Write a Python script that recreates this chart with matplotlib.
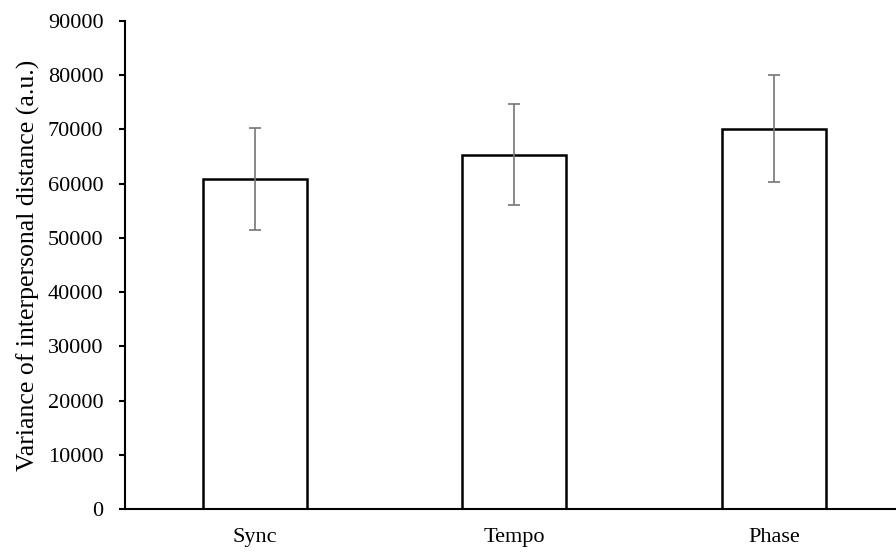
import matplotlib.pyplot as plt
import numpy as np

conditions = ["Sync", "Tempo", "Phase"]
variance = [60900, 65350, 70150]
errors = [9450, 9300, 9850]
y_ticks = list(range(0, 90001, 10000))

plt.rcParams['font.family'] = ['Liberation Serif', 'DejaVu Serif']

fig = plt.figure(figsize=(8.96, 5.54), dpi=100)
ax = fig.add_axes([125 / 896, 45 / 554, 778.75 / 896, 488 / 554])

x = np.arange(len(conditions))
ax.bar(x, variance, width=0.4, color="white", edgecolor="black",
       linewidth=1.8, zorder=2)
ax.errorbar(x, variance, yerr=errors, fmt="none", ecolor="#767676",
            elinewidth=1.2, capsize=4.5, capthick=1.2, zorder=3)

ax.set_xlim(-0.5, 2.5)
ax.set_ylim(0, 90000)
ax.set_yticks(y_ticks, [f"{t}" for t in y_ticks])
ax.set_xticks(x, conditions)
ax.tick_params(axis="y", direction="out", length=4.5, width=1.5,
               labelsize=16, pad=11)
ax.tick_params(axis="x", length=0, labelsize=16, pad=14)

for side in ["top", "right"]:
    ax.spines[side].set_visible(False)
ax.spines["left"].set_linewidth(1.5)
ax.spines["bottom"].set_linewidth(1.5)

ax.set_ylabel("Variance of interpersonal distance (a.u.)", fontsize=18.5,
              labelpad=6)

fig.savefig("out.png", dpi=100)
